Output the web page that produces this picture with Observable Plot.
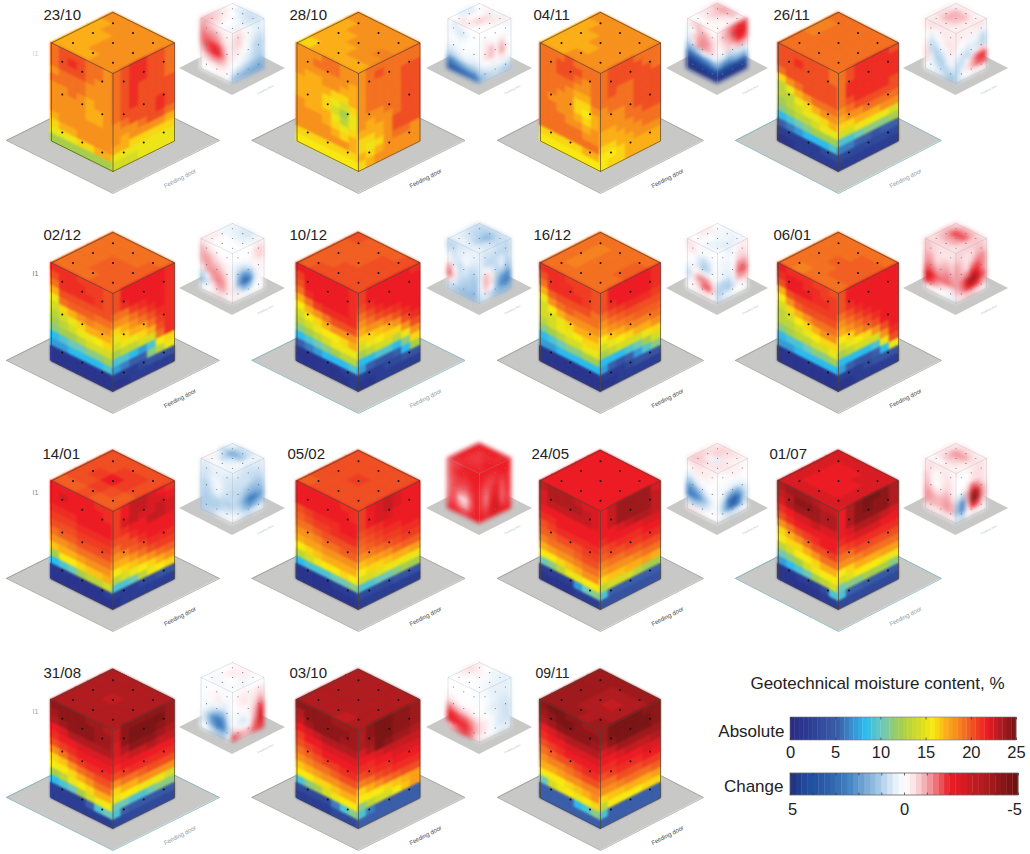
<!DOCTYPE html>
<html><head><meta charset="utf-8">
<script src="https://cdn.jsdelivr.net/npm/d3@7"></script>
<script src="https://cdn.jsdelivr.net/npm/@observablehq/plot@0.6"></script>
<style>html,body{margin:0;padding:0;background:#fff}#wrap{position:relative;width:1030px;height:854px}#wrap svg{position:absolute;left:0;top:0}</style>
</head><body><div id="wrap"></div>
<script>
const dates=["23/10","28/10","04/11","26/11","02/12","10/12","16/12","06/01","14/01","05/02","24/05","01/07","31/08","03/10","09/11"];
// Moisture %, rows top to bottom. Left face: far corner to front edge. Right face: front edge to far corner.
const T2310=[[18,18,18,18,18],[17,18,18,18,18],[17,17,18,18,18],[17,17,18,18,18],[17,17,17,18,18]];
const L2310=[[19,20,20,20,19,19,18],[19,20,21,20,19,19,18],[19,20,20,20,19,18,18],[18,19,19,19,18,18,18],[19,19,19,19,18,18,18],[18,18,19,18,17,18,18],[18,18,18,18,17,17,18],[18,18,18,18,17,17,18],[18,18,18,18,18,18,18],[17,18,18,18,18,18,18],[16,17,17,18,18,18,18],[15,15,15,16,16,17,17],[12,12,12,12,12,12,12]];
const R2310=[[19,20,21,21,20,20,19],[19,20,21,21,20,20,19],[19,20,21,21,20,20,19],[19,20,21,20,20,20,19],[19,20,21,20,20,20,20],[19,20,21,20,20,20,20],[19,20,20,20,20,21,20],[18,19,20,20,20,21,20],[18,18,18,19,20,20,19],[18,17,18,18,18,18,17],[17,17,16,16,16,16,16],[15,15,15,15,15,15,15],[14,14,14,15,15,15,15]];
const T2810=[[18,18,18,18,18],[17,18,18,18,18],[17,17,18,18,18.5],[17,17,17,18,18],[16,17,17,17,17]];
const L2810=[[18,18,18,19,19,18,18],[18,18,19,19,19,18,18],[18,18,18,18,18,18,17],[18,17,17,18,18,17,17],[17,17,17,17,16,16,17],[17,17,17,16,15,14,16],[17,17,17,16,14,12,15],[18,17,17,17,15,13,15],[18,18,18,17,16,15,16],[18,18,18,18,17,16,17],[18,18,18,18,18,18,17],[16,16,16,16,16,16,16],[15.5,15.5,15.5,15.5,15.5,15.5,15.5]];
const R2810=[[18,19,19,19,19,19,19],[18,19,20,19,19,19,19],[18,19,19,19,19,20,20],[18,19,19,19,19,20,20],[18,19,19,19,19,20,20],[18,19,19,19,19,20,20],[18,18,18,19,19,20,20],[18,17,18,18,19,20,20],[17,17,17,18,20,20,20],[16,16,17,18,20,20,20],[16,15,16,18,19,19,18],[17,16,17,18,18,18,18],[16,17,18,18,18,18,18]];
const T0411=[[18,18,18,18,18],[17,18,18,18,18],[17,17,18,18,18],[17,17,17,18,18],[17,17,18,18,18]];
const L0411=[[19,19,19,20,19,19,19],[19,19,20,20,20,19,19],[19,19,20,20,19,18,19],[19,19,19,19,18,18,19],[19,19,19,18,17,17,19],[19,19,18,18,16,16,18],[19,18,18,18,16,15.5,17],[19,19,18,18,17,16,17],[19,19,19,18,18,17,18],[19,19,19,19,19,18,18],[19,19,19,19,19,19,19],[16,16,16,16,16,17,17],[15.5,15.5,15.5,15.5,15.5,15.5,15.5]];
const R0411=[[19,20,20,20,19,19,19],[19,20,20,20,20,19,19],[19,20,20,20,20,20,19],[19,20,19,19,20,20,20],[19,19,19,19,20,20,20],[18,19,19,19,20,20,20],[18,18,18,19,20,20,20],[18,18,18,19,19,20,20],[17,17,18,18,19,19,19],[17,17,17,18,18,19,19],[16,16,17,17,18,18,18],[15.5,15.5,16,17,17,17,17],[15.5,16,16,17,17,17,17]];
const T2611=[[19,19,19,19,19],[18.5,19,19,19,19],[18.5,19,19,19,19],[19,19,19,19,19],[19,19,19,19,19]];
const L2611=[[20,20,20,20,20,20,19],[20,20,21,20,20,20,19],[20,20,20,20,20,20,20],[19,20,20,20,20,20,20],[16,18,19,20,20,20,20],[13,15,17,18,19,19,19],[13,13,15,16,17,18,18],[12,13,14,15,15,16,17],[11,12,13,13,14,15,15],[8,9,10,11,12,12,12],[5,6,7,8,8,8,9],[2,2,2,2,2,3,3],[1,1,2,2,2,2,2]];
const R2611=[[19,20,21,21,21,21,20],[19,20,21,21,21,21,21],[19,21,21,21,21,21,21],[19,21,21,21,21,21,21],[19,20,21,21,21,21,20],[18,19,20,20,20,20,20],[17,18,18,19,19,19,19],[16,16,17,17,17,18,18],[14,14,15,15,15,15,14],[9,9,10,11,11,11,12],[6,6,5,5,4,5,5],[3,3,3,3,3,3,3],[2,2,2,2,2,2,2]];
const T0212=[[19,19,19,19,19],[19,19,19,19,19.5],[19,19,19.5,19.5,19.5],[19,19,19.5,19.5,19.5],[19,19,19,19.5,19.5]];
const L0212=[[21,21,21,20.5,20.5,20.5,20],[20,21,21,21,20.5,20.5,20],[19,21,21,21,21,20.5,20],[17,20,20,20,20,20,20],[15,19,19.5,19.5,19.5,19,19],[14,16,17,18,18.5,18,18],[13,14,15,16,17,17,17],[12,13,14,15,15,15.5,16],[11,12,12,13,14,14,14],[8,9,10,10,11,11,12],[7,7,8,8,8,8,9],[1,1,1,1,1,1,1],[1,1,1,1,1,1,1]];
const R0212=[[20,21.5,21.5,21.5,21.5,21.5,21],[20,21.5,21.5,21.5,21.5,21.5,21],[20,21,21.5,21.5,21.5,21.5,21],[19,19,20.5,21,21.5,21.5,21],[18,18,19,20,21,21.5,21],[16,17,18,19,20,21,21],[15,16,17,17,19,20.5,21],[14,15,15,16,17,20,21],[12,13,13,14,14,19,21],[9,9,8,7,9,15.5,16],[7,6,5,5,11,13,15],[2,2,2,3,4,4,4],[1,1,2,2,2,2,2]];
const T1012=[[20,19.5,19.5,19.5,20],[19.5,19.5,19.5,20,20],[19.5,19.5,19.5,20,20],[19.5,19.5,20,20,20],[19.5,20,20,20,20]];
const L1012=[[21.5,21.5,21.5,21.5,21.5,21.5,21],[20.5,21.5,21.5,21.5,21.5,21.5,21],[20,21.5,21.5,21.5,21.5,21.5,21],[19,21,21.5,21.5,21.5,21.5,21],[17,19,20.5,21,21,21,21],[15.5,17,18,19,20,20,20],[14,15.5,16,17,18,18,18],[13,14,15,15.5,15.5,16,17],[11,12,13,14,15,15,15],[8,9,10,11,12,13,13],[5,6,7,8,8,8,9],[1,1,1,1,1,2,2],[1,1,1,1,1,1,2]];
const R1012=[[20.5,21.5,21.5,21.5,21.5,21.5,21],[20.5,21.5,21.5,21.5,21.5,21.5,21.5],[20,21,21.5,21.5,21.5,21.5,21.5],[19,20,21,21.5,21.5,21.5,21.5],[18,19,20,20.5,21,21.5,21.5],[17,18,18,19,20,21,21.5],[16,16,16.5,17,18,20,21],[14,15,15.5,16,16,18,20],[12,13,14,14,13,15,18],[8,8,9,9,8,11,16],[7,5,4,4,5,8,12],[2,2,2,3,3,4,4],[1,1,2,2,2,2,2]];
const T1612=[[19,19,19,19,19],[19,18.5,19,19,19.5],[19,18.5,19,19,19.5],[19,18.5,19,19,19],[19,19,19,19,19]];
const L1612=[[21,21,21,20.5,20.5,20.5,20],[20,21,21,21,20.5,20.5,20],[19,21,21,21,21,20.5,20],[17,19.5,20,20,20,20,19],[15,18,19,19.5,19,19,19],[14,15.5,17,18,18,18,18],[14,14,15,16,17,17,17],[13,14,15,15,15.5,16,16],[11,12,13,14,14,15,15],[8,9,10,11,11,12,12],[7,7,8,8,8,8,8],[1,1,1,1,1,1,1],[1,1,1,1,1,1,1]];
const R1612=[[20,21.5,21.5,21.5,21.5,21.5,21],[20,21.5,21.5,21.5,21.5,21.5,21],[20,21,21.5,21.5,21.5,21.5,21],[19,20,20.5,21,21,21,20.5],[18,19,19.5,20,20,20,20],[17,18,18.5,19,19.5,19.5,19.5],[15.5,16.5,17,18,18.5,18.5,19],[14,15,15.5,16,17,17,18],[12,13,14,14,14,15,16],[8,8,8,9,10,12,14],[7,5,4,5,7,9,11],[2,2,2,3,4,4,4],[1,1,2,2,2,2,2]];
const T0601=[[19,19,19,19,19],[19,19,19,19.5,19.5],[19,19,19.5,19.5,19.5],[19,19,19,19.5,19.5],[19,18.5,19,19,19]];
const L0601=[[21.5,21,21,21,20.5,20.5,20],[21,21.5,21.5,21,21,20.5,20.5],[20,21.5,21.5,21.5,21,21,20.5],[17,20,20.5,20.5,20.5,20.5,20.5],[15.5,18,19.5,20,20,20,20],[14,16,17,18,19,19,19],[13,14,15.5,16,17,18,18],[13,13,14,15,15.5,16,16],[11,12,13,13,14,14,15],[8,9,9,10,11,11,12],[7,7,8,8,8,8,8],[1,1,1,1,1,1,1],[1,1,1,1,1,1,1]];
const R0601=[[20,21.5,21.5,21.5,21.5,21.5,21.5],[20,21.5,21.5,21.5,21.5,21.5,21.5],[20,21,21.5,21.5,21.5,21.5,21.5],[19,20,21,21.5,21.5,21.5,21.5],[18,19,20,21,21.5,21.5,21.5],[17,18,19,20,21,21.5,21.5],[15.5,16,18,19,20,21.5,21.5],[14,15,15.5,16,18,20,21.5],[12,13,14,14,14,18,21],[8,8,8,8,9,15,20],[7,5,4,4,5,8,15],[2,2,2,3,4,4,4],[1,1,2,2,2,2,2]];
const T1401=[[20,20,20,20,20],[20,20,20.5,20.5,20],[20,20.5,21.5,20.5,20],[20,20,20.5,20,19.5],[19.5,19.5,20,19.5,19.5]];
const L1401=[[21.5,21.5,21.5,21.5,21.5,21,21],[21.5,22,21.5,21.5,21.5,21.5,21],[21.5,21.5,21.5,21.5,21.5,21.5,21.5],[21,21,21,21.5,21.5,21.5,21.5],[20.5,20.5,20.5,21,21,21,21],[20,20,20,20.5,20.5,20.5,20.5],[19,19.5,19.5,20,20,20,20],[18,18,18.5,19,19,19,19],[16.5,17,17,17.5,18,18,18],[12,15.5,15.5,16,16.5,16.5,17],[8,9,10,12,13,13,14],[1,1,1,1,1,1,2],[1,1,1,1,1,1,1]];
const R1401=[[20.5,21.5,22.5,22.5,22,21.5,21],[20.5,21.5,22.5,22.5,22,22,21.5],[20.5,22,22.5,22,22,22.5,22],[20.5,21,21.5,21.5,22.5,22.5,22],[20,20,21,21.5,21.5,21.5,21.5],[19,20,20,21,21.5,21.5,21.5],[18,18.5,19.5,20,21,21,21],[17,17,18,19,20,20.5,20.5],[15.5,16,16.5,17,18,19,19.5],[13,14,15,15.5,16,17,18],[9,9,10,13,15,15.5,16],[2,2,2,3,3,4,4],[1,2,2,2,2,2,2]];
const T0502=[[20,20,20,20,20],[20,20,20,20,20],[20,20,20.5,20,20],[20,20,20,20,20],[19.5,20,20,20,20]];
const L0502=[[21.5,21.5,21.5,21.5,21.5,21,21],[21.5,21.5,21.5,21.5,21.5,21.5,21],[21.5,21.5,21.5,21.5,21.5,21.5,21.5],[20,20.5,21,21,21,21.5,21.5],[19.5,20,20.5,20.5,21,21,21],[19,19,19.5,20,20,20,20],[18,18,18.5,19,19,19.5,19.5],[17,17.5,17.5,18,18,18,18],[15.5,16,16.5,17,17,17,17],[13,14,15,15.5,15.5,16,15.5],[8,9,9,9,10,10,11],[1,1,1,1,2,2,2],[1,1,1,1,1,1,1]];
const R0502=[[20.5,21.5,22,22.5,22,21.5,21.5],[20.5,21.5,22,22.5,22,21.5,21.5],[20.5,21.5,22,22,21.5,21.5,21.5],[20,20.5,21,21.5,21.5,21.5,21.5],[19.5,20,20.5,21,21,21.5,21.5],[19,19.5,20,20.5,20.5,21,21],[18,18.5,19,19.5,20,20.5,20.5],[16.5,17,17.5,18,19,19.5,19.5],[15.5,16,16,16.5,17,17,17.5],[14,14,14.5,15,15,15,15],[9,9,10,10,11,12,12],[3,3,3,3,4,4,4],[2,2,2,2,2,2,2]];
const T2405=[[21.5,21.5,21.5,21.5,21.5],[21.5,21.5,21.5,21.5,21.5],[21.5,21.5,21.5,21.5,21.5],[21.5,21.5,21.5,21.5,21.5],[21.5,21.5,21.5,21.5,21.5]];
const L2405=[[22.5,23,23,23,22.5,22,22],[22,23,23,23,23,22.5,22],[22,22.5,22.5,22.5,22.5,22.5,22],[21.5,21.5,21.5,21.5,21.5,21.5,21.5],[21,21,21.5,21.5,21.5,21.5,21.5],[20,20.5,21,21,21,21,21],[19.5,19.5,20,20,20,20.5,20.5],[18.5,19,19,19,19.5,20,20],[17,17.5,18,18,18.5,19,19],[15.5,15.5,16,16.5,17,18,18],[10,11,13,15,15,15.5,15.5],[2,2,2,2,7,10,11],[1,1,1,1,2,2,2]];
const R2405=[[21.5,22.5,23.5,23.5,23.5,23.5,22],[21.5,22.5,23.5,23.5,23.5,23.5,22.5],[21.5,22.5,23.5,23.5,23.5,23.5,22.5],[21.5,21.5,22,22.5,23,23,22.5],[21,21.5,21.5,21.5,21.5,22,22],[20,20.5,21,21,21,21.5,21.5],[19.5,20,20,20.5,20.5,21,21],[18.5,19,19,19.5,19.5,20,20],[17.5,18,18,18,18.5,19,19],[16,16.5,16.5,17,17,17.5,17],[13,14,14,14,13,12,12],[9,5,5,5,5,5,5],[4,4,4,4,4,4,4]];
const T0107=[[22,22,22,22,22],[22,21.5,21.5,22,22],[22,21.5,21.5,21.5,22],[22,21.5,21.5,21.5,22],[22,22,22,22,22]];
const L0107=[[23,23.5,23.5,23.5,23,22.5,22.5],[22.5,23,24,24,23.5,23,23],[22,23,23.5,23.5,23.5,23,23],[21,21.5,22,22,22.5,22,22],[20,21,21.5,21.5,21.5,21.5,21.5],[18,19,20,20.5,21,21.5,21.5],[16,17,18,19,20,20,20.5],[15.5,16,16,17,18,19,19],[13,14,15.5,15.5,16,17,17],[10,11,12,14,15,15.5,15.5],[7,8,9,10,12,13,14],[1,1,2,2,2,3,9],[1,1,1,1,1,2,2]];
const R0107=[[21.5,23,24,24.5,24.5,24,23],[21.5,23,24,24.5,24,24,23],[21.5,23,24,24,24,24,23],[21.5,22,23,23,23,22.5,22],[21,21.5,22,22,22,21.5,21.5],[20,20.5,21,21,21,21,21],[19,19,20,20,20,20,20],[18,18,18.5,19,19,19,19],[15.5,16,17,17,17,17.5,17.5],[14,14.5,15.5,15.5,15.5,15,15],[10,11,11,12,12,12,11],[9,5,5,4.5,4.5,4.5,4.5],[3,3,3,3,3,3,3]];
const T3108=[[23,23,23,23,23],[23,23,23,23,23],[23,23,22.5,23,23],[23,23,23,23,23],[23,23,23,23,23]];
const L3108=[[24,24,24,24,23.5,23.5,23],[23.5,24,24,24,24,23.5,23.5],[23,23.5,24,24,24,23.5,23.5],[21.5,22,23,23,23,23,23],[21,21.5,21.5,22,22,22,22],[20,20.5,21,21.5,21.5,21.5,21.5],[18,19,20,20.5,21,21,21],[16,16.5,18,19,19.5,20,20],[15.5,15.5,16,17,18,19,19],[12,13,15,15.5,16,17,17],[8,9,10,12,14,15,15.5],[2,2,2,2,5,9,10],[2,2,2,2,2,2,2]];
const R3108=[[22.5,24,24,24,24,24,23.5],[22.5,24,24.5,24.5,24.5,24.5,23.5],[22,24,24.5,24.5,24.5,24,23.5],[22,23,24,24,24,23.5,23],[21.5,22,22.5,22.5,23,22.5,22.5],[21,21.5,21.5,21.5,21.5,21.5,21.5],[20,20.5,21,21,21,21,21],[18,19,19,19.5,20,20,20],[16,17,17,18,18,18,18],[15,15.5,15.5,15,15,15,14],[10,10,9,9,10,11,11],[9,5,4.5,4.5,4.5,4.5,4.5],[3,3,3,3,3,3,3]];
const T0310=[[23,23,23,23,23],[23,23,23,23,23],[23,23,23,23,23],[23,23,23,23,23],[23,23,23,22.5,23]];
const L0310=[[24,24,24,24,23.5,23.5,23.5],[23,24,24,24,24,24,23.5],[22.5,23.5,24,24,24,23.5,23.5],[21.5,22,22.5,23,23,23,23],[20.5,21.5,21.5,22,22,22,22],[20,20.5,21,21.5,21.5,21.5,21.5],[19,19.5,20,20.5,20.5,21,21],[18,18.5,19,19,19.5,20,20],[16.5,17,17.5,18,18,18.5,18.5],[15.5,15.5,16,16,16.5,17,17],[9,11,12,14,15,15.5,15.5],[3,3,3,3,6,9,11],[2,2,2,2,3,3,3]];
const R0310=[[23,24,24.5,24.5,24,24,23.5],[23,24,24.5,24.5,24,24,23.5],[23,23.5,24.5,24.5,24,24,23.5],[22,23,24.5,24,23.5,23.5,23],[21.5,21.5,22,22.5,22.5,22.5,22.5],[21,21,21.5,21.5,22,22,22],[20,20.5,21,21,21.5,21.5,21.5],[18.5,19,20,20.5,21,21,21],[16,17,18,19,19.5,20,20],[15.5,15.5,15.5,16,16.5,17,17.5],[11,13,14,14,15.5,16.5,17.5],[9,6,5,5,5,5,5],[5,5,5,5,5,5,5]];
const T0911=[[23.5,23.5,23.5,23.5,23.5],[23.5,23.5,23,23,23],[23.5,23.5,23,22.5,23],[23.5,23.5,23,23,23],[23.5,23.5,23.5,23,23.5]];
const L0911=[[24,24.5,24.5,24,24,23.5,23.5],[23.5,24,24.5,24.5,24,24,24],[23,23.5,24,24,24,24,23.5],[21.5,22,22.5,23,23,23,23],[21,21.5,21.5,22,22,22,22],[20,20.5,21,21.5,21.5,21.5,21.5],[19,19.5,20,20,20.5,21,21],[18,18.5,18.5,19,19.5,20,20],[17,17,17.5,18,18,18.5,18.5],[15.5,15.5,15.5,16,16.5,17,18],[10,14,15,15.5,15,15.5,16],[5,5,5,5,8,9,11],[5,5,5,5,5,5,5]];
const R0911=[[23.5,24.5,24.5,24.5,24.5,24,24],[23.5,24.5,24.5,24.5,24.5,24.5,24],[23,24,24.5,24.5,24.5,24.5,24],[22,22.5,23.5,23.5,23.5,23.5,23.5],[21.5,21.5,22,22.5,22.5,22.5,23],[21,21,21.5,21.5,21.5,22,22],[20,20.5,21,21,21,21.5,21.5],[19,19,20,20,20,20.5,20.5],[18,18,18.5,19,19,19,19.5],[16,16.5,16.5,17,17,17,17.5],[13,15.5,15.5,15.5,15.5,16,16],[9,5,5,5,5,5,5],[5,5,5,5,5,5,5]];
const topAbs=[T2310,T2810,T0411,T2611,T0212,T1012,T1612,T0601,T1401,T0502,T2405,T0107,T3108,T0310,T0911];
const leftAbs=[L2310,L2810,L0411,L2611,L0212,L1012,L1612,L0601,L1401,L0502,L2405,L0107,L3108,L0310,L0911];
const rightAbs=[R2310,R2810,R0411,R2611,R0212,R1012,R1612,R0601,R1401,R0502,R2405,R0107,R3108,R0310,R0911];

// Change in moisture (positive blue, negative red)
const dT2310=[[0,.5,.7,.7],[-.3,0,.4,.6],[-.6,-.2,0,.3],[-.8,-.5,0,.2]];
const dL2310=[[-1,-.8,-.6,-.3,-.2,-.1],[-1.2,-1,-1,-.8,-.4,-.1],[-1.4,-1.4,-1.3,-1.1,-.6,-.2],[-1.4,-1.7,-1.9,-1.8,-1,-.2],[-1,-1.5,-1.9,-2,-1.2,-.3],[-.5,-.8,-1.1,-1.1,-.8,-.2],[-.1,-.2,-.3,-.4,-.3,0],[0,0,0,-.1,-.1,.1]];
const dR2310=[[-.3,-.4,-.1,.2,.4,.4],[-.5,-.6,-.2,.1,.4,.5],[-.5,-.6,-.1,.2,.6,.7],[-.4,-.3,0,.3,.8,.9],[-.2,-.1,.2,.5,.8,.9],[0,.1,.4,.6,.9,1],[.5,.7,.9,1.1,1.3,1.4],[1.2,1.3,1.5,1.6,1.7,1.7]];
const dT2810=[[0,-.2,.2,-.3],[.5,0,-.5,-.3],[.4,-.1,-.6,-.1],[0,-.4,-.3,0]];
const dL2810=[[.1,.5,.2,-.1,0,0],[.2,.3,.6,.4,.1,0],[.1,.1,.3,.1,0,0],[.2,.1,.1,0,.1,.1],[.5,.4,.2,.1,.2,.2],[1,.8,.6,.4,.5,.6],[2.5,2.2,1.8,1.5,1.3,1.3],[3.4,3.3,3.2,3,2.8,2.6]];
const dR2810=[[0,0,0,.1,.1,.2],[.1,.1,0,0,0,.1],[.1,-.3,-.2,.1,-.3,.1],[0,-.4,-.8,-.2,-.8,0],[-.1,-.5,-.8,-.2,-1,-.1],[.3,0,-.2,-.1,-.4,.1],[.8,.5,.4,.3,.3,.4],[1.4,1,.8,.7,.9,1]];
const dT0411=[[-.8,-1,-.8,-.3],[-.5,-.7,-.4,-.2],[-.3,-.4,-.2,-.1],[0,0,-.1,-.1]];
const dL0411=[[-.2,-.6,-.8,-.5,-.2,0],[.3,0,-.8,-1,-.7,-.3],[.4,-.5,-1,-1.2,-1,-.5],[.8,-.3,-1.1,-1.2,-.9,-.5],[1.7,1.3,.8,.2,.4,.2],[3.3,3,2.8,2.4,2.2,1.8],[4.8,4.6,4.4,4.4,4.2,4],[4.8,4.8,4.9,4.9,4.8,4.8]];
const dR0411=[[-.3,-.7,-1.2,-1.6,-1.9,-1.8],[-.3,-.8,-1.1,-1.8,-2.2,-2.2],[-.1,-.5,-.8,-1.3,-2,-1.8],[.1,-.3,-.6,-.5,-1,-.9],[.5,.4,.9,.7,.5,.5],[1.5,2,2.2,1.6,1.4,1.5],[4,4.2,4.2,4.2,4.1,4],[4.8,4.8,4.8,4.8,4.8,4.7]];
const dT2611=[[-.3,-.4,-.3,-.2],[-.5,-.9,-.8,-.3],[-.5,-.9,-.7,-.3],[-.3,-.4,-.4,-.2]];
const dL2611=[[-.4,-.5,-.4,-.3,-.3,-.3],[-.3,-.2,-.1,-.3,-.3,-.3],[0,.5,.2,-.1,-.4,-.4],[-.2,.8,.6,.1,-.2,-.4],[-.4,.8,1,.6,.2,-.2],[-.6,.4,1,1,.4,.2],[-.3,.3,.7,1,.8,.6],[0,.2,.4,.6,1,1.2]];
const dR2611=[[-.3,-.3,-.2,-.3,-.4,-.4],[-.3,-.2,-.2,-.2,-.2,.3],[-.2,0,.2,.2,.3,.8],[0,.3,.6,.4,.6,.9],[.4,.7,.8,.4,-.4,-.6],[.8,.7,.1,-.8,-1.7,-1.9],[.9,.3,-.4,-1,-1.5,-1.6],[.7,.2,0,-.2,-.2,-.2]];
const dT0212=[[.3,.5,.6,.3],[.2,.3,.4,.3],[-.3,0,.1,.1],[-.3,-.1,0,0]];
const dL0212=[[-.5,-.3,-.1,0,0,0],[-.9,-.6,-.4,-.2,0,0],[-1,-1,-.7,-.5,-.3,-.1],[-.9,-1.1,-.9,-.8,-.5,-.2],[-.3,-1,-1.2,-1.1,-.8,-.3],[.9,.2,-1,-1.3,-1.1,-.3],[1.2,.6,-.4,-1,-1,-.3],[.2,0,-.2,-.5,-.4,-.1]];
const dR0212=[[0,0,0,0,-.2,-.3],[0,0,0,0,-.5,-.6],[.3,.3,.2,.1,-.3,-.6],[.3,.8,.8,.4,-.1,-.2],[.2,1.6,2.2,1.6,.2,-.2],[-.3,1.8,3.3,2.6,.6,-.1],[-.4,.6,1.6,1.2,.2,-.1],[-.2,-.1,.1,.1,0,0]];
const dT1012=[[.8,.9,.9,.7],[.7,.9,1.4,.8],[.5,.7,1,.6],[.3,.3,.5,.4]];
const dL1012=[[.9,.8,.6,.5,.4,.3],[.8,.7,.4,.3,.3,.4],[.3,.6,.5,.1,.4,.6],[-.2,.5,.8,.4,.7,.8],[-1.1,.1,.7,.6,.9,1.1],[-1.5,-.3,.7,.9,1,1.2],[-.5,.4,.9,1.1,1.1,1.3],[.8,1,1.2,1.3,1.4,1.3]];
const dR1012=[[.4,.6,.5,.7,.7,.8],[.4,.7,.7,.8,.9,.9],[.4,.8,.9,.7,.5,.8],[.4,-.1,.5,.8,.4,1],[.3,-.8,-.2,.9,.9,1.4],[.2,-.9,-.4,1.1,2,2.3],[.3,-.6,0,1.3,2.4,2.4],[.7,.5,.9,1.3,1.5,1.5]];
const dT1612=[[0,.2,.3,.2],[-.3,.2,.2,.4],[-.3,0,.3,.5],[0,.1,.3,.3]];
const dL1612=[[-.5,-.3,-.1,.1,.1,0],[-.3,-.4,.1,.2,.1,0],[-.1,0,.5,.8,.6,.1],[.1,.1,.6,1.1,.8,.1],[.5,-.1,-.2,.3,.2,0],[.8,-.3,-1.2,-1.3,-1,-.3],[.2,-.2,-.6,-1.5,-1.6,-.5],[0,-.1,-.2,-.3,-.3,-.1]];
const dR1612=[[0,.1,.4,.1,-.2,-.3],[.1,.1,.2,.1,-.4,-.4],[.1,.3,.3,0,-.6,-.6],[.2,.3,.3,-.1,-1.2,-1.1],[.2,.3,.5,.1,-1.5,-1.6],[.8,.9,.9,.2,-1,-1.1],[1,.9,1.1,.6,-.2,-.3],[.8,.4,.3,.1,0,0]];
const dT0601=[[-.7,-1,-.9,-.6],[-.9,-1.7,-1.6,-.7],[-.7,-1,-1,-.6],[-.5,-.6,-.6,-.4]];
const dL0601=[[-.8,-.6,-.5,-.4,-.4,-.4],[-.8,-.6,-.5,-.4,-.4,-.4],[-1,-.9,-.4,-.6,-.7,-.6],[-1.2,-1.1,-.7,-.9,-1,-.7],[-1.6,-1.5,-1.1,-1.1,-1.3,-1],[-2.8,-2,-1.5,-1.4,-1.4,-1.2],[-2,-1.6,-1,-.6,-.4,-.4],[-.4,-.2,-.1,0,.2,.3]];
const dR0601=[[-.6,-.6,-.6,-.6,-.7,-.6],[-.7,-.5,-.4,-.5,-.8,-.8],[-1,-.6,-.4,-.7,-1.2,-1.2],[-1.1,-.7,-.5,-1.4,-1.7,-1.2],[-1,-1,-1.3,-2.4,-2,-1.2],[-1,-1.5,-3,-4,-3,-1.6],[-.8,-1.3,-2.3,-2.5,-1.8,-1],[-.4,-.5,-.7,-.7,-.5,-.3]];
const dT1401=[[.4,.8,.7,.3],[.8,1.6,1.2,.3],[.2,.8,.5,.2],[-.2,.1,.2,.2]];
const dL1401=[[.5,.5,.3,.3,.3,.4],[.6,.6,.4,.4,.5,.6],[.7,.6,.3,.2,.5,.6],[.9,.8,.4,.1,.5,.7],[.9,.9,.6,.3,.7,.8],[1,1,.9,.9,.9,1],[1,1,1,1,.7,.6],[1,.9,.8,.4,.2,.1]];
const dR1401=[[.4,.5,.6,.6,.5,.5],[.6,.6,.7,.7,.7,.6],[.7,.7,.6,.7,.9,.8],[.8,.7,.9,1.1,1.2,1.1],[.7,.9,1.2,1.6,1.6,1.4],[.8,1,1.8,2.6,2.5,1.9],[.5,.7,1.4,2,1.7,1.2],[.1,.3,.6,.7,.5,.4]];
const dT0502=[[-2,-2,-2,-1.9],[-2,-1.8,-1.9,-1.9],[-2,-1.8,-1.8,-2],[-1.9,-1.9,-1.9,-1.9]];
const dL0502=[[-1.5,-1.7,-1.8,-2,-2,-2],[-1.5,-1.8,-2,-1.9,-2,-2],[-1.5,-1.7,-1.8,-1.8,-1.9,-2],[-1.4,-1.7,-1.7,-1.6,-1.8,-2],[-1.4,-1.6,-1.3,-1.2,-1.6,-2],[-1.5,-1.6,-.6,-.4,-1.4,-2],[-1.6,-1.7,-1.1,-.8,-1.6,-2],[-1.9,-1.9,-1.8,-1.7,-1.9,-2]];
const dR0502=[[-2,-2,-2,-2,-2,-2],[-2,-1.9,-1.8,-1.9,-2,-2],[-1.9,-1.7,-1.7,-1.9,-1.8,-1.9],[-1.8,-1.5,-1.8,-2,-1.6,-1.9],[-1.8,-1.3,-1.9,-2.2,-1.5,-1.9],[-1.8,-1.4,-2,-2.5,-1.5,-1.8],[-1.9,-1.7,-2.3,-2.8,-1.7,-1.8],[-2,-1.9,-2.2,-2.4,-2,-2]];
const dT2405=[[-.4,-.6,-.5,-.3],[-.5,-.6,-.4,-.2],[-.6,-.2,.4,-.4],[-.7,-.6,-.4,-.4]];
const dL2405=[[-.3,-.4,-.4,-.3,-.2,-.2],[.1,-.2,-.3,-.3,-.2,-.1],[.5,.3,-.1,-.1,-.1,0],[1.2,.9,.4,.1,0,0],[2.2,2,1.4,.8,.3,.1],[2.6,2.6,2.2,1.4,.7,.2],[.9,1.2,1,.8,.4,.1],[-.3,-.3,-.2,-.1,0,0]];
const dR2405=[[-.1,-.2,-.3,-.2,-.2,-.1],[0,0,-.1,-.2,-.2,-.1],[.1,.1,.1,.1,.1,0],[.1,.2,.3,.5,.4,.2],[.1,.4,1.4,1.9,1.6,.6],[.2,1,2.8,3.5,2.8,1],[.2,1.2,2.5,3.2,2.4,.8],[.1,.3,.6,.6,.4,.1]];
const dT0107=[[-.4,-.6,-.5,-.3],[-.5,-1.1,-1,-.5],[-.4,-.7,-.6,-.3],[-.1,-.1,-.3,-.2]];
const dL0107=[[-.4,-.5,-.4,-.3,-.3,-.2],[-.5,-.3,-.1,-.3,-.4,-.2],[-.7,-.2,.1,-.2,-.5,-.3],[-.8,-.3,0,-.3,-.6,-.3],[-1,-.7,-.4,-.6,-.9,-.5],[-1.2,-1,-.8,-.9,-1.1,-.8],[-1,-.9,-.8,-.9,-1.1,-.8],[-.4,-.4,-.3,-.4,-.4,-.2]];
const dR0107=[[-.2,-.1,-.2,-.3,-.4,-.4],[0,0,0,-.4,-.5,-.4],[0,0,-.1,-.4,-.5,-.4],[0,.1,-.5,-1.6,-1.2,-.5],[.4,1,-1,-3.5,-3,-.9],[1.1,2.4,-.8,-4.5,-3.6,-1],[1.3,2.4,-.3,-2,-1.6,-.6],[.6,.8,.1,-.3,-.2,-.1]];
const dT3108=[[-.1,-.2,-.2,0],[0,-.3,-.2,.2],[.1,-.1,0,.2],[.1,.2,.1,.1]];
const dL3108=[[0,0,0,0,.1,.1],[.1,0,-.1,-.2,.1,.1],[.1,.1,-.1,-.3,.3,.2],[.1,.1,.2,.2,.6,.3],[.1,.3,.8,1.4,1.4,.4],[.3,1,2.2,2.7,2.2,.6],[.4,1,2,2.7,2.4,.8],[0,.3,.9,1.2,1.2,.5]];
const dR3108=[[0,-.1,-.1,0,0,0],[-.1,-.2,-.3,-.2,-.3,-.4],[0,-.2,-.4,-.2,-.4,-.7],[0,-.1,-.1,-.2,-.6,-1.2],[.1,.3,.1,-.2,-.8,-1.9],[0,.4,.6,.1,-1,-2.7],[-.6,-.2,.2,-.2,-1.4,-2.4],[-1.6,-1.2,-.8,-1,-1.6,-1.8]];
const dT0310=[[-.2,0,.3,.4],[-.5,-.2,.1,.3],[-.3,-.1,.1,.2],[0,0,0,.1]];
const dL0310=[[0,0,0,0,0,.1],[0,0,0,0,0,.1],[-.1,-.1,0,0,0,.1],[-.5,-.3,-.1,-.1,-.1,0],[-1.3,-1,-.7,-.6,-.5,-.3],[-2,-1.8,-1.6,-1.5,-1.2,-.8],[-2,-2,-1.9,-1.9,-1.5,-.9],[-.8,-1.2,-1.6,-1.8,-1.4,-.6]];
const dR0310=[[.1,.2,.4,.4,.4,.4],[0,.1,.3,.4,.4,.4],[0,.1,.3,.4,.5,.5],[0,.2,.4,.5,.6,.6],[-.2,0,.2,.4,.6,.7],[-.5,-.2,.1,.4,.6,.7],[-.5,-.3,.1,.4,.6,.6],[-.2,-.1,.1,.3,.4,.4]];
const chgDates=dates.slice(0,14);
const topChg=[dT2310,dT2810,dT0411,dT2611,dT0212,dT1012,dT1612,dT0601,dT1401,dT0502,dT2405,dT0107,dT3108,dT0310];
const leftChg=[dL2310,dL2810,dL0411,dL2611,dL0212,dL1012,dL1612,dL0601,dL1401,dL0502,dL2405,dL0107,dL3108,dL0310];
const rightChg=[dR2310,dR2810,dR0411,dR2611,dR0212,dR1012,dR1612,dR0601,dR1401,dR0502,dR2405,dR0107,dR3108,dR0310];

const absDomain=[0,2,5,6.5,8,10,12,14,15.5,17,18.5,20,21.5,23,25];
const absColors=["#2a2c86","#2b3e93","#3b5ea9","#3a8ccb","#2cbbee","#70c8b8","#a6ce4e","#d4dc26","#f8e912","#fbae17","#f58220","#f04e23","#ed1c24","#b01c20","#6b1212"];
const chgDomain=[-5,-3.5,-2,-1.2,-.5,0,.5,1.2,2.5,3.5,4.3,5];
const chgColors=["#6a1010","#b01c20","#ed1c24","#f08a90","#fbdde0","#ffffff","#dfecf7","#9cc3e4","#3f7fc1","#2b5aa8","#1f4c9e","#262d7e"];
const absTicks=[0,5,10,15,20,25];
const chgLabels=[5,0,-5];
const sensors=[.175,.5,.825];
const sensorsB=[.137,.47,.86];

// Sheet layout
const colX=[112.5,358,600,838], colHw=[61.5,61.5,60,60], colFloor=[106.5,106.5,103,103];
const rowY=[12,232,450,669];
const smallX=[232,479,717,955.5], smallHw=[31.5,31.5,30,30.5], smallFloor=[53,53,51,52.5], smallY=[3,223,443,662];
const dateX=[43,289,533,773,43,289,533,773,42,287,531,769,43,289,535];
const dateY=[15,235,454,673];
const tealFloors=new Set([3,5,11,12]);
const fadedLabels=new Set([0,3,5,11,12]);
const F="Liberation Sans";

function P(g,face,a,b){ // project a face coordinate to the sheet
  if(face==="T")return [g.x+(a-b)*g.hw,g.y+(a+b)*g.hh];
  if(face==="L")return [g.x-g.hw+a*g.hw,g.y+g.hh+a*g.hh+b*g.h];
  return [g.x+a*g.hw,g.y+2*g.hh-a*g.hh+b*g.h];
}
function cells(g,T,L,R,out){
  let id=out.length;
  const n=T.length;
  T.forEach((row,i)=>row.forEach((v,j)=>{
    const a0=j/n,a1=(j+1)/n,b0=i/n,b1=(i+1)/n,k=id++;
    const top=P(g,"T",a0,b0),rt=P(g,"T",a1,b0),lf=P(g,"T",a0,b1),bt=P(g,"T",a1,b1);
    out.push({k,v,x:lf[0],y1:lf[1],y2:lf[1]},{k,v,x:top[0],y1:top[1],y2:bt[1]},{k,v,x:rt[0],y1:rt[1],y2:rt[1]});
  }));
  [["L",L],["R",R]].forEach(([f,G])=>{
    const nr=G.length,nc=G[0].length;
    G.forEach((row,r)=>row.forEach((v,c)=>{
      const k=id++;
      for(const a of [c/nc,(c+1)/nc]){
        const p0=P(g,f,a,r/nr),p1=P(g,f,a,(r+1)/nr);
        out.push({k,v,x:p0[0],y1:p0[1],y2:p1[1]});
      }
    }));
  });
  return out;
}
function floor(g,fhw,fhh,dy,i,out){
  const cy=g.y+dy;
  out.push({k:i,x:g.x-fhw,y1:cy,y2:cy},{k:i,x:g.x,y1:cy-fhh,y2:cy+fhh},{k:i,x:g.x+fhw,y1:cy,y2:cy});
}
function floorEdge(g,fhw,fhh,dy,i,out){
  const cy=g.y+dy;
  [[g.x-fhw,cy],[g.x,cy+fhh],[g.x+fhw,cy],[g.x,cy-fhh],[g.x-fhw,cy]].forEach(([x,y])=>out.push({k:i,x,y}));
}
function edges(g,i,out){
  const paths=[[P(g,"T",0,0),P(g,"T",1,0),P(g,"T",1,1),P(g,"T",0,1),P(g,"T",0,0)],
    [P(g,"T",1,1),P(g,"L",1,1)],
    [P(g,"T",0,1),P(g,"L",0,1),P(g,"L",1,1),P(g,"R",1,1),P(g,"T",1,0)]];
  paths.forEach((p,j)=>p.forEach(([x,y])=>out.push({k:i+"-"+j,x,y})));
}
function dots(g,out){
  for(const a of sensors)for(const b of sensors){const [x,y]=P(g,"T",a,b);out.push({x,y});}
  for(const f of ["L","R"])for(const a of sensors)for(const b of sensorsB){const [x,y]=P(g,f,a,b);out.push({x,y});}
}
const bigCells=[],bigFloors=[],bigFloorEdges=[],tealEdges=[],bigEdges=[],bigDots=[],textsStart=[],textsMid=[],textsEnd=[];
dates.forEach((d,i)=>{
  const c=i%4,r=Math.floor(i/4);
  const g={x:colX[c],y:rowY[r],hw:colHw[c],hh:30.5,h:98};
  cells(g,topAbs[i],leftAbs[i],rightAbs[i],bigCells);
  floor(g,colFloor[c],53,128,i,bigFloors);
  floorEdge(g,colFloor[c],53,128,i,tealFloors.has(i)?tealEdges:bigFloorEdges);
  edges(g,i,bigEdges);
  dots(g,bigDots);
  textsStart.push({t:d,x:dateX[i],y:dateY[r],s:i===14?14:15,f:"#222"});
  textsMid.push({t:"Feeding door",x:g.x+67,y:g.y+166,s:6,f:fadedLabels.has(i)?"#8c9aa5":"#444",rot:-27});
});
const smallCells=[],smallFloors=[],smallEdges=[],smallDots=[];
chgDates.forEach((d,i)=>{
  const c=i%4,r=Math.floor(i/4);
  const g={x:smallX[c],y:smallY[r],hw:smallHw[c],hh:15,h:50};
  floor(g,smallFloor[c],27,65,i,smallFloors);
  cells(g,topChg[i],leftChg[i],rightChg[i],smallCells);
  edges(g,i,smallEdges);
  dots(g,smallDots);
  textsMid.push({t:"Feeding door",x:g.x+33,y:g.y+86,s:3,f:"#b4c2cc",rot:-27});
});
const sideLabels=[{t:"I1",x:35,y:53,f:"#c3ced6"},{t:"I1",x:35,y:273,f:"#777"},{t:"I1",x:35,y:492,f:"#888"},{t:"I1",x:35,y:711,f:"#8fa6c0"}];
sideLabels.forEach(l=>textsMid.push({...l,s:7,rot:0}));
textsMid.push({t:"Geotechnical moisture content, %",x:877,y:683,s:17,f:"#222",rot:0});
textsEnd.push({t:"Absolute",x:784,y:731,s:17,f:"#222"},{t:"Change",x:783,y:786,s:17,f:"#222"});
const absX=v=>790+v/25*226, chgX=v=>904-v*22.8;
absTicks.forEach(v=>textsMid.push({t:String(v),x:absX(v),y:752,s:16.5,f:"#222",rot:0}));
chgLabels.forEach(v=>textsMid.push({t:String(v),x:chgX(v)+(v===5?2:v===-5?-4:0),y:809,s:16.5,f:"#222",rot:0}));
const absBar=d3.range(0,25,.5).map(v=>({v,x1:absX(v),x2:absX(v+.5)+.3,y1:717,y2:740}));
const chgBar=d3.range(-5,5,.25).map(v=>({v:v+.125,x1:chgX(v+.25),x2:chgX(v)+.3,y1:773,y2:795}));
const sheet={width:1030,height:854,margin:0,x:{domain:[0,1030],range:[0,1030],axis:null},y:{domain:[0,854],range:[0,854],axis:null},style:{background:"transparent",fontFamily:F}};
const area=(d,o)=>Plot.area(d,{x1:"x",y1:"y1",y2:"y2",z:"k",...o});
const txt=(d,a)=>Plot.text(d,{x:"x",y:"y",text:"t",fontSize:"s",fill:"f",textAnchor:a,rotate:d[0].rot===undefined?0:"rot",lineAnchor:"middle",fontFamily:F});

const main=Plot.plot({...sheet,
  color:{type:"linear",domain:absDomain,range:absColors},
  marks:[
    area(bigFloors,{fill:"#c8c8c7"}),
    Plot.line(bigFloorEdges,{x:"x",y:"y",z:"k",stroke:"#8a8a8a",strokeWidth:.6}),
    Plot.line(tealEdges,{x:"x",y:"y",z:"k",stroke:"#7fb3bd",strokeWidth:.8}),
    area(bigCells,{fill:"v",stroke:"v",strokeWidth:1}),
    area(bigCells,{fill:"v",stroke:"v",strokeWidth:1,imageFilter:"blur(1.3px)"}),
    Plot.line(bigEdges,{x:"x",y:"y",z:"k",stroke:"#4f4236",strokeWidth:.8,strokeOpacity:.85}),
    Plot.dot(bigDots,{x:"x",y:"y",r:1,fill:"#111"}),
    Plot.rect(absBar,{x1:"x1",x2:"x2",y1:"y1",y2:"y2",fill:"v"}),
    Plot.rect([{x1:790,x2:1016,y1:717,y2:740}],{x1:"x1",x2:"x2",y1:"y1",y2:"y2",stroke:"#777",strokeWidth:.6,fill:"none"}),
    Plot.ruleX(absTicks,{x:absX,y1:717,y2:719.5,stroke:"#333",strokeWidth:.7}),
    Plot.ruleX(absTicks,{x:absX,y1:737.5,y2:740,stroke:"#333",strokeWidth:.7}),
    txt(textsStart,"start"),txt(textsMid,"middle"),txt(textsEnd,"end")
  ]});
const change=Plot.plot({...sheet,
  color:{type:"linear",domain:chgDomain,range:chgColors},
  marks:[
    area(smallFloors,{fill:"#c8c8c7"}),
    area(smallCells,{fill:"v",stroke:"v",strokeWidth:1,imageFilter:"blur(2px)"}),
    Plot.line(smallEdges,{x:"x",y:"y",z:"k",stroke:"#9aa6b0",strokeWidth:.4,strokeOpacity:.7}),
    Plot.dot(smallDots,{x:"x",y:"y",r:.6,fill:"#6b7b88"}),
    Plot.rect(chgBar,{x1:"x1",x2:"x2",y1:"y1",y2:"y2",fill:"v"}),
    Plot.rect([{x1:790,x2:1018,y1:773,y2:795}],{x1:"x1",x2:"x2",y1:"y1",y2:"y2",stroke:"#666",strokeWidth:.8,fill:"none"}),
    Plot.ruleX(d3.range(-5,6),{x:chgX,y1:773,y2:775.5,stroke:"#333",strokeWidth:.7}),
    Plot.ruleX(d3.range(-5,6),{x:chgX,y1:792.5,y2:795,stroke:"#333",strokeWidth:.7})
  ]});
document.getElementById("wrap").append(main,change);
</script></body></html>
